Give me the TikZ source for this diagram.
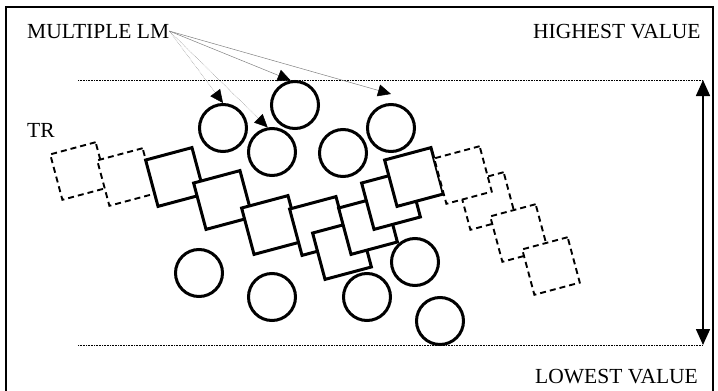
\documentclass[tikz,border=0pt]{standalone}
\usepackage{fontspec}
\setmainfont{Liberation Serif}
\usetikzlibrary{arrows.meta}
\begin{document}
\begin{tikzpicture}[x=1pt,y=-1pt,
    lbl/.style={inner sep=0pt,anchor=base west,font=\fontsize{21.5}{25}\selectfont},
    trbox/.style={draw,fill=white,line width=3pt,minimum size=48pt,inner sep=0pt,rotate=15},
    trghost/.style={draw,fill=white,line width=1.9pt,dash pattern=on 6pt off 4pt,minimum size=47pt,inner sep=0pt,rotate=15},
    lm/.style={circle,draw,fill=white,line width=3pt,minimum size=47pt,inner sep=0pt},
    guide/.style={densely dotted,line width=0.6pt},
    pointer/.style={-{Triangle[length=13pt,width=12pt,color=black]},line width=0.5pt,gray}]
      \useasboundingbox (0,0) rectangle (718,391);
      \draw[line width=1.8pt] (6,391) |- (713,7) -- (713,391);
      \node[lbl] (mlm) at (27,38) {MULTIPLE LM};
      \node[lbl] (hv) at (533,38) {HIGHEST VALUE};
      \node[lbl] (tr) at (27,137) {TR};
      \node[lbl] (lv) at (535,383) {LOWEST VALUE};
      \coordinate (hl) at (78,80);
      \coordinate (hr) at (703,80);
      \coordinate (ll) at (78,345);
      \coordinate (lr) at (703,345);
      \draw[guide] (hl) -- (hr);
      \draw[guide] (ll) -- (lr);
      \draw[{Triangle[length=16pt,width=14pt]}-{Triangle[length=16pt,width=14pt]},line width=1.6pt] (hr) -- (lr);
      \node[trghost] (g1) at (79,171) {};
      \node[trghost] (g2) at (126,177) {};
      \node[trbox] (tr1) at (175,177) {};
      \node[trbox] (tr2) at (223,200) {};
      \node[trbox] (tr3) at (271,225) {};
      \node[trbox] (tr4) at (319,226) {};
      \node[trbox] (tr5) at (342,250) {};
      \node[trbox] (tr6) at (368,225) {};
      \node[trbox] (tr7) at (391,200) {};
      \node[trbox] (tr8) at (414,177) {};
      \node[trghost] (g4) at (487,201) {};
      \node[trghost] (g5) at (519,233) {};
      \node[trghost] (g6) at (551,266) {};
      \node[trghost] (g3) at (463,175) {};
      \node[lm] (lm1) at (223,128) {};
      \node[lm] (lm2) at (295,105) {};
      \node[lm] (lm3) at (272,152) {};
      \node[lm] (lm4) at (343,153) {};
      \node[lm] (lm5) at (391,128) {};
      \node[lm] (lm6) at (199,273) {};
      \node[lm] (lm7) at (272,297) {};
      \node[lm] (lm8) at (367,297) {};
      \node[lm] (lm9) at (415,262) {};
      \node[lm] (lm10) at (440,321) {};
      \draw[pointer,densely dotted] (mlm.east) -- (lm1.north);
      \draw[pointer,densely dotted] (mlm.east) -- (lm3.100);
      \draw[pointer] (mlm.east) -- (lm2.100);
      \draw[pointer] (mlm.east) -- ([yshift=9pt]lm5.north);
\end{tikzpicture}
\end{document}
